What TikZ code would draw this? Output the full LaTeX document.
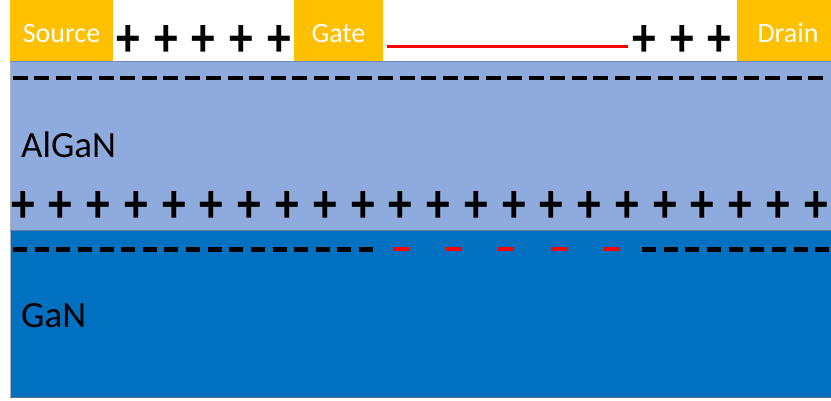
\documentclass[tikz,border=0pt]{standalone}
\usepackage{fontspec}
\usepackage{graphicx}
\setmainfont{Carlito}
\definecolor{contact}{HTML}{FFC000}
\definecolor{algan}{HTML}{8FAADC}
\definecolor{gan}{HTML}{0070C0}
\definecolor{edge}{HTML}{6F8AB8}
\newcommand{\tallplus}{\scalebox{0.95}[1.12]{+}}
\begin{document}
\begin{tikzpicture}[x=1pt,y=-1pt,
  contactbox/.style={fill=contact,draw=none},
  contactlabel/.style={text=white,font=\fontsize{28}{32}\selectfont,anchor=base,inner sep=0pt},
  layerlabel/.style={text=black,font=\fontsize{37}{42}\selectfont,anchor=base west,inner sep=0pt},
  plussign/.style={font=\fontsize{50}{55}\selectfont\bfseries,inner sep=0pt,anchor=center},
  blackdash/.style={line width=4.5pt,black},
  reddash/.style={line width=4pt,red}]
\useasboundingbox (0,0) rectangle (831,400);
% layers
\fill[algan] (10,61) rectangle (831,230);
\fill[gan] (10,230) rectangle (831,397);
\draw[draw=gray!60,line width=1pt] (10,61) -- (10,397);
\draw[draw=edge!80!black,line width=1pt] (10,397) -- (831,397);
\draw[draw=edge,line width=1pt] (10,61) -- (831,61);
\draw[draw=edge!90!black,line width=0.8pt] (10,230) -- (831,230);
% contacts
\fill[contactbox] (10,0) rectangle (113,61);
\fill[contactbox] (294,0) rectangle (383,61);
\fill[contactbox] (737,0) rectangle (831,61);
\node[contactlabel] (src) at (61.5,42) {Source};
\node[contactlabel] (gate) at (338.5,42) {Gate};
\node[contactlabel] (drain) at (788,42) {Drain};
% gate red line
\draw[red,line width=3pt] (387,46) -- (628,46);
% top pluses
\foreach \x [count=\i] in {128,166,203,241,279,644,682,719}
  \node[plussign] (tp\i) at (\x,41) {\tallplus};
% mid pluses
\foreach \i in {0,...,21}
  \node[plussign] (mp\i) at ({23+37.76*\i},207) {\tallplus};
% top dashes
\draw[blackdash,dash pattern=on 15pt off 6.49pt] (13,78) -- (823,78);
% bottom dashes
\draw[blackdash,dash pattern=on 14pt off 7.625pt] (13,249.5) -- (373,249.5);
\draw[blackdash,dash pattern=on 14pt off 7.67pt] (642,249.5) -- (831,249.5);
\foreach \x in {393,446,498,551,604}
  \draw[reddash] (\x,249) -- ++(16,0);
% layer labels
\node[layerlabel] (al) at (21,157) {AlGaN};
\node[layerlabel] (ga) at (21,327) {GaN};
\end{tikzpicture}
\end{document}
